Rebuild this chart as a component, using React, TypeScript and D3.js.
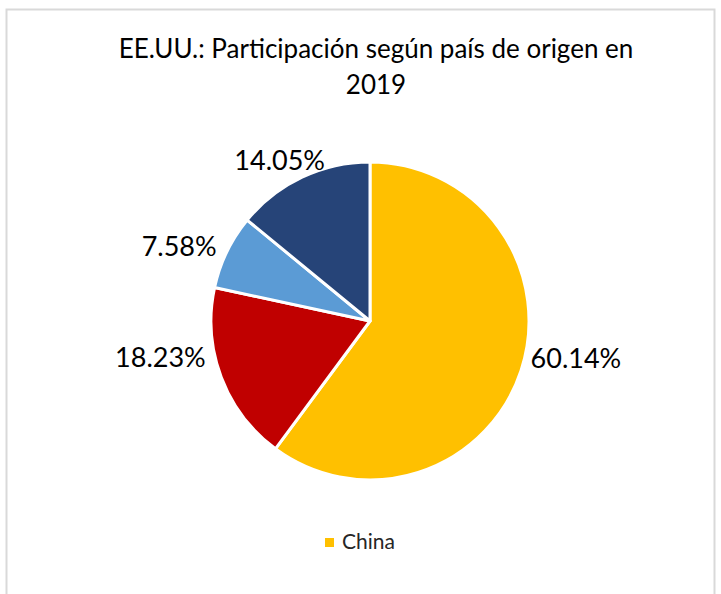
import React, { useEffect, useRef } from 'react';
import * as d3 from 'd3';

// data
const categories = ['China', 'México', 'Vietnam', 'Resto'];
const shares = [60.14, 18.23, 7.58, 14.05];
const colors = ['#FFC000', '#C00000', '#5B9BD5', '#264478'];
const titleLines = ['EE.UU.: Participación según país de origen en', '2019'];

// small hand nudges so labels sit where Excel put them ("best fit")
const labelNudge = [[2, -16], [-8, -23], [-3, -3], [-19, -11]];

const App = () => {
  const svgRef = useRef<SVGSVGElement | null>(null);

  useEffect(() => {
    const width = 721;
    const height = 594;
    const cx = 370;
    const cy = 321;
    const radius = 159;
    const font = 'Lato, "Open Sans", sans-serif';

    const svg = d3.select(svgRef.current);
    svg.selectAll('*').remove();
    svg.attr('width', width).attr('height', height);

    svg.append('rect')
      .attr('x', 0).attr('y', 0).attr('width', width).attr('height', height)
      .attr('fill', '#fff');

    // chart area border
    svg.append('rect')
      .attr('x', 6.5).attr('y', 9.5)
      .attr('width', 708).attr('height', 620)
      .attr('fill', 'none')
      .attr('stroke', '#D9D9D9')
      .attr('stroke-width', 2);

    // title
    svg.append('text')
      .attr('x', cx + 6)
      .attr('text-anchor', 'middle')
      .attr('font-family', font)
      .attr('font-size', 26)
      .attr('fill', '#000')
      .selectAll('tspan')
      .data(titleLines)
      .enter()
      .append('tspan')
      .attr('x', cx + 6)
      .attr('y', (d, i) => 58 + i * 36)
      .text(d => d);

    const data = categories.map((c, i) => ({ name: c, value: shares[i], color: colors[i] }));

    const pie = d3.pie<any>()
      .sort(null)
      .value(d => d.value);

    const arc = d3.arc<any>()
      .innerRadius(0)
      .outerRadius(radius);

    const arcs = pie(data);

    const g = svg.append('g')
      .attr('transform', `translate(${cx},${cy})`);

    g.selectAll('path')
      .data(arcs)
      .enter()
      .append('path')
      .attr('d', arc)
      .attr('fill', d => d.data.color)
      .attr('stroke', '#fff')
      .attr('stroke-width', 3)
      .attr('stroke-linejoin', 'round');

    // labels outside the pie
    const labelR = radius + 8;
    g.selectAll('text.lbl')
      .data(arcs)
      .enter()
      .append('text')
      .attr('class', 'lbl')
      .each(function (d, i) {
        const a = (d.startAngle + d.endAngle) / 2;
        const s = Math.sin(a);
        const x = s * labelR + labelNudge[i][0];
        const y = -Math.cos(a) * labelR + labelNudge[i][1];
        const anchor = s > 0.6 ? 'start' : s < -0.6 ? 'end' : 'middle';
        d3.select(this)
          .attr('x', x)
          .attr('y', y)
          .attr('text-anchor', anchor)
          .attr('dominant-baseline', 'central');
      })
      .attr('font-family', font)
      .attr('font-size', 27)
      .attr('fill', '#000')
      .text(d => d.data.value.toFixed(2) + '%');

    // legend (only the first entry fits in the reference)
    const legend = svg.append('g')
      .attr('transform', 'translate(325,538)');
    legend.append('rect')
      .attr('width', 9).attr('height', 9)
      .attr('fill', colors[0]);
    legend.append('text')
      .attr('x', 17)
      .attr('y', 11)
      .attr('font-family', font)
      .attr('font-size', 21)
      .attr('fill', '#262626')
      .text(categories[0]);
  }, []);

  return (
    <div style={{ position: 'absolute', left: 0, top: 0 }}>
      <svg ref={svgRef}></svg>
    </div>
  );
};

export default App;
